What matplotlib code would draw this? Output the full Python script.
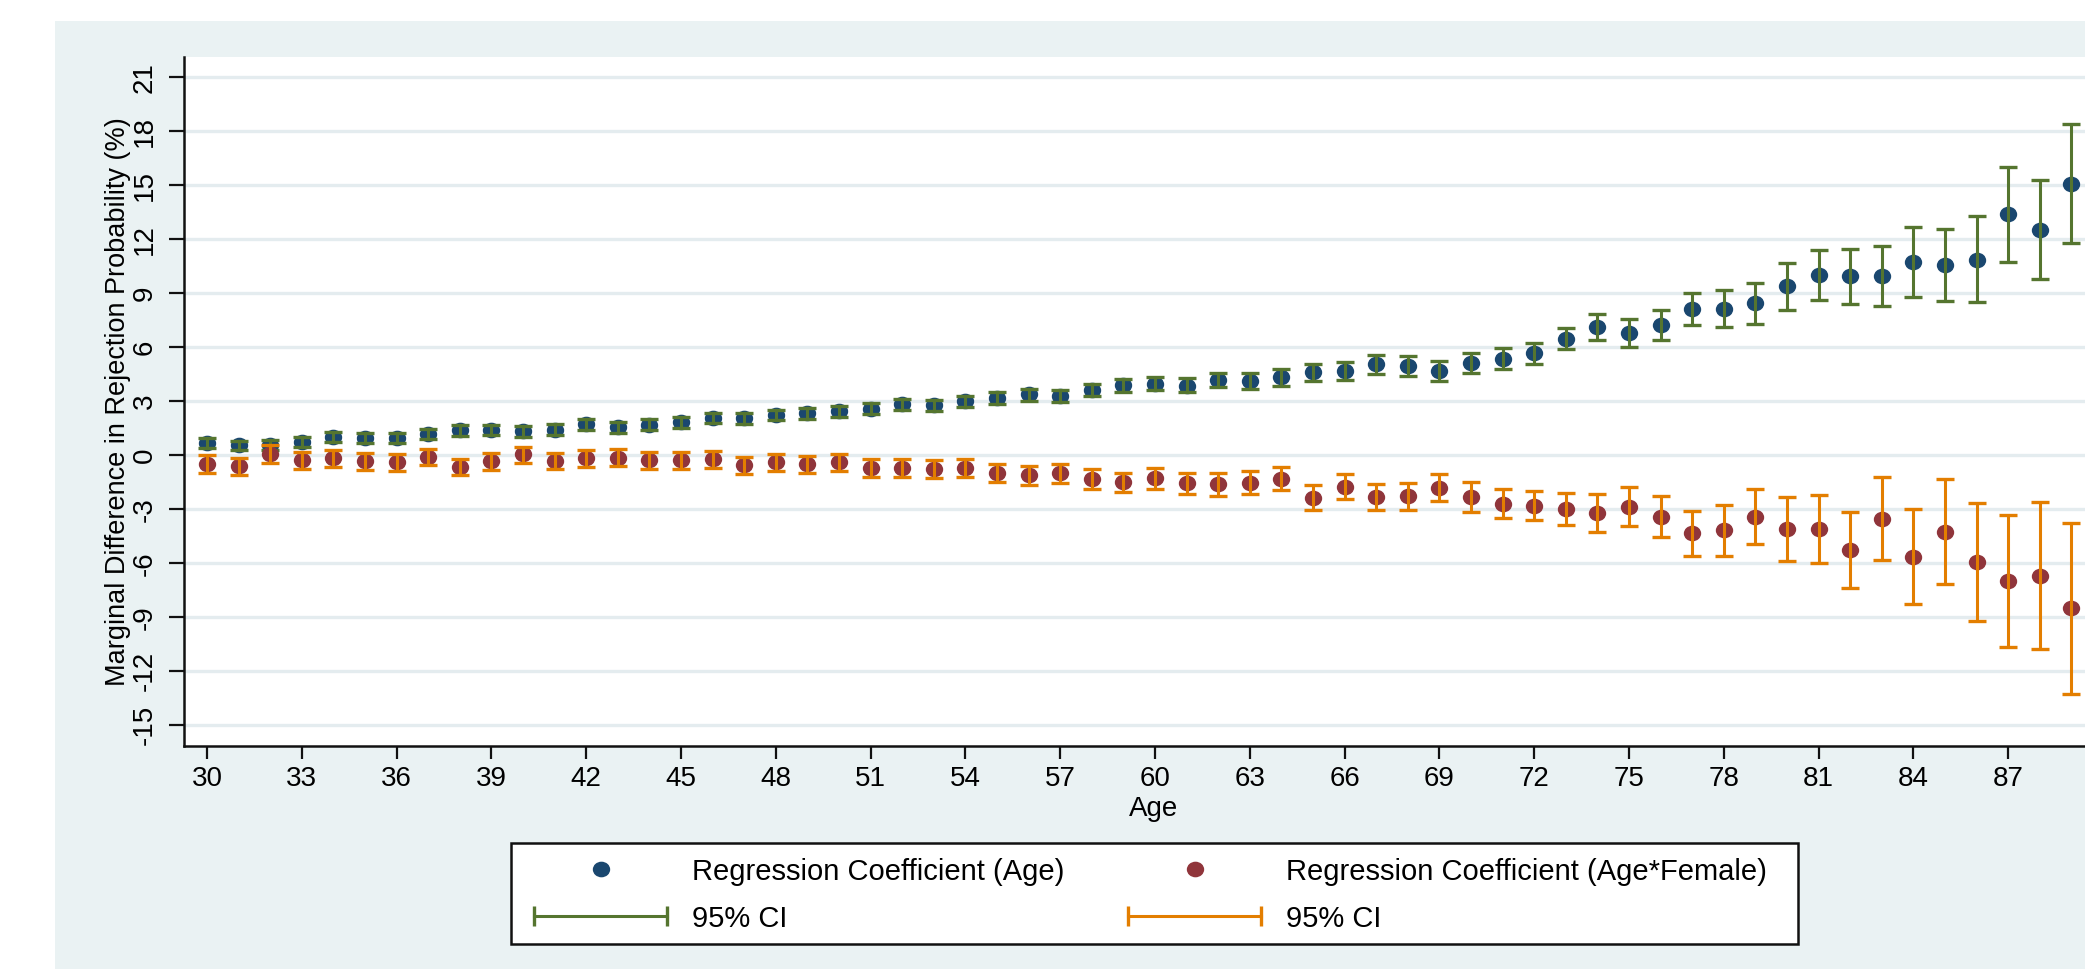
import numpy as np
import matplotlib
matplotlib.use("Agg")
import matplotlib.pyplot as plt
from matplotlib.lines import Line2D
from matplotlib.patches import Rectangle
from matplotlib.path import Path
from matplotlib.transforms import Affine2D
from matplotlib.legend_handler import HandlerLine2D

plt.rcParams["font.family"] = ["Liberation Sans", "DejaVu Sans"]
plt.rcParams["axes.unicode_minus"] = False

# age in years
ages = np.arange(30, 90)

# marginal effect of age (%), with 95% CI bounds
age_coef = [0.69, 0.56, 0.55, 0.74, 1.02, 0.96, 0.96, 1.20, 1.39, 1.41,
            1.33, 1.43, 1.72, 1.57, 1.70, 1.83, 2.07, 2.06, 2.24, 2.35,
            2.46, 2.59, 2.83, 2.78, 3.00, 3.19, 3.39, 3.31, 3.65, 3.89,
            3.98, 3.87, 4.18, 4.13, 4.35, 4.61, 4.69, 5.06, 4.96, 4.70,
            5.13, 5.37, 5.69, 6.49, 7.15, 6.79, 7.22, 8.13, 8.15, 8.46,
            9.39, 10.02, 9.94, 9.94, 10.72, 10.57, 10.87, 13.39, 12.54, 15.09]
age_hi = [0.94, 0.81, 0.83, 1.00, 1.30, 1.26, 1.24, 1.48, 1.69, 1.70,
          1.61, 1.72, 2.02, 1.85, 2.00, 2.13, 2.35, 2.35, 2.54, 2.63,
          2.76, 2.89, 3.15, 3.07, 3.31, 3.52, 3.70, 3.65, 3.98, 4.22,
          4.33, 4.28, 4.58, 4.56, 4.78, 5.07, 5.17, 5.57, 5.50, 5.24,
          5.69, 5.94, 6.26, 7.10, 7.87, 7.55, 8.05, 9.01, 9.17, 9.59,
          10.67, 11.41, 11.48, 11.61, 12.67, 12.59, 13.28, 16.02, 15.30, 18.41]
age_lo = [0.39, 0.28, 0.28, 0.44, 0.74, 0.69, 0.69, 0.91, 1.09, 1.11,
          1.04, 1.13, 1.41, 1.26, 1.39, 1.54, 1.78, 1.76, 1.94, 2.02,
          2.15, 2.30, 2.50, 2.44, 2.67, 2.83, 3.04, 2.98, 3.28, 3.52,
          3.61, 3.52, 3.78, 3.69, 3.85, 4.11, 4.17, 4.52, 4.43, 4.15,
          4.56, 4.78, 5.07, 5.88, 6.43, 6.01, 6.40, 7.22, 7.13, 7.31,
          8.09, 8.63, 8.43, 8.31, 8.80, 8.59, 8.50, 10.76, 9.78, 11.80]

# marginal effect of age*female (%), with 95% CI bounds
fem_coef = [-0.50, -0.61, 0.09, -0.28, -0.15, -0.31, -0.37, -0.07, -0.65, -0.33,
            0.06, -0.30, -0.17, -0.13, -0.26, -0.26, -0.22, -0.54, -0.37, -0.50,
            -0.39, -0.69, -0.70, -0.74, -0.69, -0.96, -1.09, -0.98, -1.31, -1.48,
            -1.28, -1.56, -1.61, -1.52, -1.30, -2.35, -1.76, -2.33, -2.28, -1.81,
            -2.30, -2.69, -2.81, -2.98, -3.20, -2.85, -3.40, -4.32, -4.17, -3.41,
            -4.11, -4.11, -5.26, -3.52, -5.63, -4.24, -5.93, -6.98, -6.69, -8.50]
fem_hi = [0.02, -0.13, 0.59, 0.20, 0.31, 0.15, 0.07, 0.37, -0.20, 0.11,
          0.48, 0.15, 0.28, 0.33, 0.20, 0.19, 0.24, -0.09, 0.07, -0.04,
          0.07, -0.22, -0.22, -0.26, -0.19, -0.46, -0.59, -0.48, -0.76, -0.96,
          -0.70, -0.98, -0.98, -0.89, -0.65, -1.67, -1.02, -1.59, -1.54, -1.02,
          -1.48, -1.85, -1.98, -2.11, -2.17, -1.74, -2.26, -3.07, -2.76, -1.85,
          -2.33, -2.20, -3.13, -1.19, -3.00, -1.31, -2.65, -3.30, -2.59, -3.76]
fem_lo = [-1.00, -1.11, -0.43, -0.76, -0.65, -0.81, -0.87, -0.56, -1.09, -0.80,
          -0.43, -0.78, -0.63, -0.59, -0.76, -0.76, -0.69, -1.04, -0.85, -0.98,
          -0.89, -1.20, -1.22, -1.26, -1.20, -1.48, -1.67, -1.54, -1.85, -2.06,
          -1.85, -2.15, -2.24, -2.17, -1.94, -3.02, -2.44, -3.06, -3.04, -2.56,
          -3.13, -3.46, -3.61, -3.89, -4.25, -3.93, -4.56, -5.57, -5.57, -4.94,
          -5.85, -6.00, -7.35, -5.83, -8.24, -7.15, -9.19, -10.67, -10.74, -13.24]

y_ticks = list(range(-15, 22, 3))
x_ticks = list(range(30, 90, 3))

navy = "#1A476F"
dkgreen = "#55752F"
maroon = "#90353B"
orange = "#E37E00"
panel = "#EAF2F3"

# slightly flattened dot, like the exported graph
dot = Path.unit_circle().transformed(Affine2D().scale(1.0, 0.9))
ms = 12.5

W, H = 2085, 969
fig = plt.figure(figsize=(W / 100, H / 100), dpi=100)
fig.patch.set_facecolor("white")
fig.patches.append(Rectangle((55 / W, 0), 1, 1 - 21 / H, transform=fig.transFigure,
                             facecolor=panel, edgecolor="none", zorder=-10))

# plot region runs past the right edge of the canvas
left, right = 29.27, 90.65
px_per_year = 31.6
ax = fig.add_axes([184 / W, (H - 746) / H,
                   (right - left) * px_per_year / W, (746 - 57) / H])
ax.set_zorder(1)
ax.set_facecolor("white")

age_coef, age_lo, age_hi = map(np.array, (age_coef, age_lo, age_hi))
fem_coef, fem_lo, fem_hi = map(np.array, (fem_coef, fem_lo, fem_hi))

ax.plot(ages, age_coef, ls="none", marker=dot, color=navy, ms=ms, mew=0, zorder=3)
ax.errorbar(ages, age_coef, yerr=[age_coef - age_lo, age_hi - age_coef], fmt="none",
            ecolor=dkgreen, elinewidth=2.2, capsize=6.8, capthick=2.4, zorder=4)
ax.plot(ages, fem_coef, ls="none", marker=dot, color=maroon, ms=ms, mew=0, zorder=5)
ax.errorbar(ages, fem_coef, yerr=[fem_coef - fem_lo, fem_hi - fem_coef], fmt="none",
            ecolor=orange, elinewidth=2.2, capsize=6.8, capthick=2.4, zorder=6)

ax.set_xlim(left, right)
ax.set_ylim(-16.15, 22.13)
ax.set_yticks(y_ticks)
ax.set_yticklabels([str(v) for v in y_ticks], rotation=90, va="center")
ax.set_xticks(x_ticks)
ax.grid(axis="y", color="#E4ECEF", linewidth=2.4, zorder=0)
ax.set_axisbelow(True)

for side in ("top", "right"):
    ax.spines[side].set_visible(False)
for side in ("left", "bottom"):
    ax.spines[side].set_linewidth(1.8)
    ax.spines[side].set_color("#111111")
ax.tick_params(axis="y", length=10.8, width=1.6, color="#111111", labelsize=20, pad=8)
ax.tick_params(axis="x", length=9.4, width=1.6, color="#111111", labelsize=20, pad=5)

ax.set_xlabel("Age", fontsize=20, labelpad=3)
ax.set_ylabel("Marginal Difference in Rejection Probability (%)", fontsize=19.5, labelpad=0.5)

# legend box, then the keys and labels inside it
fig.patches.append(Rectangle((511 / W, (H - 944) / H), (1798 - 511) / W, (944 - 843) / H,
                             transform=fig.transFigure, facecolor="white",
                             edgecolor="#111111", linewidth=1.8, zorder=2))

h_age = Line2D([], [], ls="none", marker=dot, color=navy, ms=ms, mew=0)
h_fem = Line2D([], [], ls="none", marker=dot, color=maroon, ms=ms, mew=0)
h_ci1 = Line2D([], [], color=dkgreen, lw=2.2, marker="|", ms=14, mew=2.4)
h_ci2 = Line2D([], [], color=orange, lw=2.2, marker="|", ms=14, mew=2.4)

leg = fig.legend([h_age, h_ci1, h_fem, h_ci2],
                 ["Regression Coefficient (Age)", "95% CI",
                  "Regression Coefficient (Age*Female)", "95% CI"],
                 ncol=2, loc="upper left", bbox_to_anchor=(511 / W, 1 - 843 / H),
                 borderaxespad=0, fontsize=21, handlelength=5.15, handletextpad=0.55,
                 columnspacing=1.9, borderpad=0.5, labelspacing=0.65, frameon=False,
                 handler_map={h_ci1: HandlerLine2D(numpoints=2),
                              h_ci2: HandlerLine2D(numpoints=2)})
leg.set_zorder(3)

fig.savefig("out.png", dpi=100)
